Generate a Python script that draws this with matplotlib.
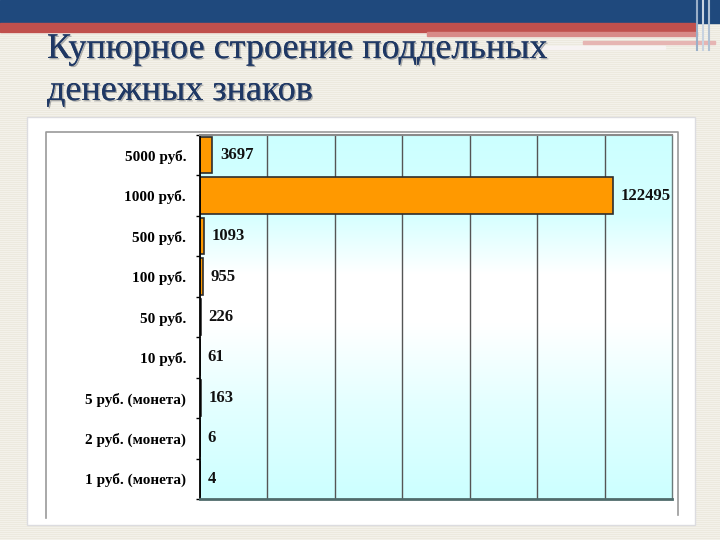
import numpy as np
import matplotlib
matplotlib.use("Agg")
import matplotlib.pyplot as plt
from matplotlib.patches import Rectangle
import matplotlib.patheffects as pe

# data
categories = ["5000 руб.", "1000 руб.", "500 руб.", "100 руб.", "50 руб.",
              "10 руб.", "5 руб. (монета)", "2 руб. (монета)", "1 руб. (монета)"]
counts = [3697, 122495, 1093, 955, 226, 61, 163, 6, 4]
title_lines = ["Купюрное строение поддельных", "денежных знаков"]

W, H = 720, 540
fig = plt.figure(figsize=(W / 100, H / 100), dpi=100)

# slide background in pixel coords
bg = fig.add_axes([0, 0, 1, 1])
bg.set_xlim(0, W)
bg.set_ylim(H, 0)
bg.axis("off")
stripes = np.tile(np.array([[0.0], [1.0]]), (H // 2, 1))
bg.imshow(stripes, extent=[0, W, H, 0], aspect="auto",
          cmap=matplotlib.colors.ListedColormap(["#ECE9DE", "#F3F1EA"]), zorder=0)

# top decoration
bg.add_patch(Rectangle((0, 0), W, 23, color="#1F497D", zorder=1))
bg.add_patch(Rectangle((0, 23), 695, 9, color="#C0504D", zorder=1))
bg.add_patch(Rectangle((427, 32), 270, 4, color="#D88A88", zorder=1))
bg.add_patch(Rectangle((583, 41), 132, 3, color="#E6B5B3", zorder=1))
bg.add_patch(Rectangle((532, 46), 133, 3, color="#F7F3F3", zorder=1))
for xv, c in [(697, "#9AAFC8"), (703, "#C8D3E0"), (709, "#AFC0D3")]:
    bg.plot([xv, xv], [0, 50], color=c, lw=1.5, zorder=2)

# title
for i, line in enumerate(title_lines):
    bg.text(47, 58 + i * 42, line, fontsize=26, family="Liberation Serif",
            color="#1F3864", ha="left", va="baseline", zorder=3,
            path_effects=[pe.withSimplePatchShadow(offset=(1, -1), alpha=0.3),
                          pe.Normal()])

# white chart panel with inner frame
bg.add_patch(Rectangle((27, 117), 668, 408, facecolor="white",
                       edgecolor="#DCDCE0", lw=1, zorder=1))
bg.plot([46, 46, 678, 678], [518, 132, 132, 515], color="#9A9A9A", lw=1.2, zorder=2)

# chart
ax = fig.add_axes([200 / W, 1 - 499 / H, 472 / W, 364 / H])
y = np.arange(len(categories))
xmax = 140000

t = np.linspace(0, 1, 200)
amt = np.interp(t, [0, 0.22, 0.38, 0.52, 0.75, 1.0], [1, 0.8, 0.0, 0.0, 0.55, 1.0])
cyan = np.array([204, 255, 255]) / 255
grad = 1 - amt[:, None] * (1 - cyan[None, :])
ax.imshow(grad[:, None, :], extent=[0, xmax, len(categories) - 0.5, -0.5],
          aspect="auto", zorder=0)

ax.barh(y, counts, height=0.9, color="#FF9900", edgecolor="#2E2E2E",
        linewidth=1.2, zorder=3)

for yi, v in zip(y, counts):
    ax.annotate(str(v), (v, yi), xytext=(5.5, 0), textcoords="offset points",
                va="center", ha="left", fontsize=12, fontweight="bold",
                family="Liberation Serif", color="#111111", zorder=4,
                annotation_clip=False)

ax.set_xlim(0, xmax)
ax.set_ylim(len(categories) - 0.5, -0.5)
ax.set_xticks(np.arange(20000, xmax, 20000))
ax.xaxis.grid(True, color="#555555", lw=1)
ax.set_axisbelow(False)
ax.tick_params(axis="x", length=0, labelbottom=False)

ax.set_yticks(y)
ax.set_yticklabels(categories, fontsize=11, fontweight="bold",
                   family="Liberation Serif")
ax.set_yticks(np.arange(-0.5, len(categories), 1), minor=True)
ax.tick_params(axis="y", which="major", length=0, pad=10)
ax.tick_params(axis="y", which="minor", length=3, width=1, color="black")

ax.spines["left"].set_color("black")
ax.spines["left"].set_linewidth(1.3)
ax.spines["bottom"].set_color("#4F6B6B")
ax.spines["bottom"].set_linewidth(2)
ax.spines["top"].set_color("#8A8A8A")
ax.spines["top"].set_linewidth(1.5)
ax.spines["right"].set_color("#6A7A7A")
ax.spines["right"].set_linewidth(1)
for s in ax.spines.values():
    s.set_zorder(5)

fig.savefig("out.png", dpi=100)
